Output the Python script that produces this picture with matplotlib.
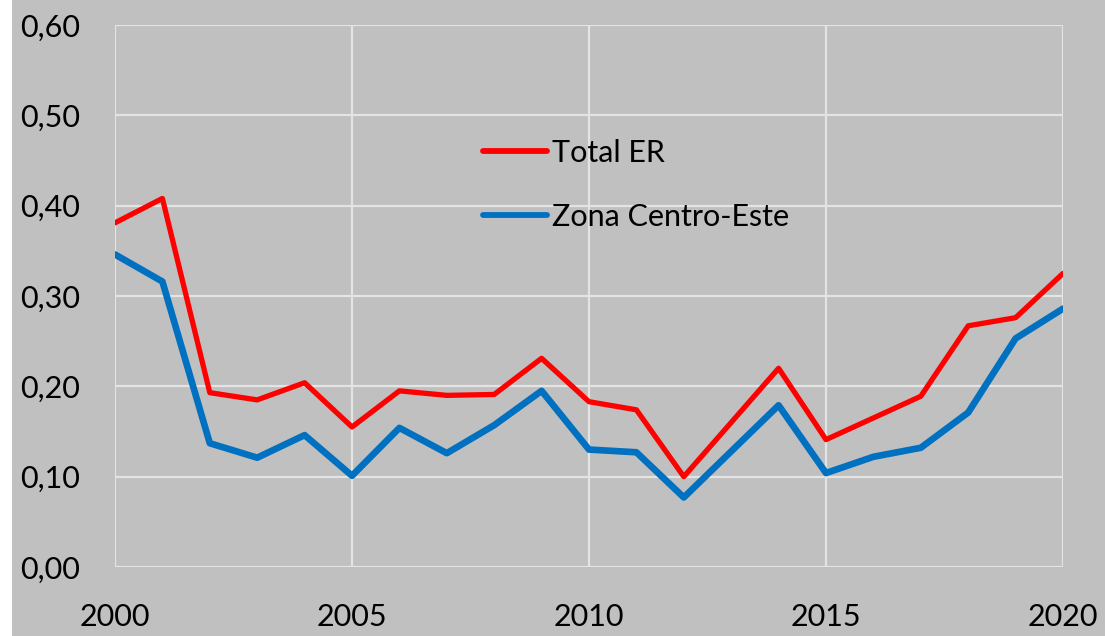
import matplotlib
matplotlib.use("Agg")
import matplotlib.pyplot as plt
from matplotlib.ticker import FuncFormatter, MultipleLocator
from matplotlib.patches import Rectangle

# datos
anos = list(range(2000, 2021))
total_er = [0.381, 0.408, 0.193, 0.185, 0.204, 0.155, 0.195, 0.190, 0.191, 0.231,
            0.183, 0.174, 0.100, 0.160, 0.220, 0.141, 0.165, 0.189, 0.267, 0.276, 0.325]
centro_este = [0.346, 0.316, 0.137, 0.121, 0.146, 0.101, 0.154, 0.126, 0.157, 0.195,
               0.130, 0.127, 0.077, 0.128, 0.179, 0.104, 0.122, 0.132, 0.171, 0.253, 0.286]
series = ["Total ER", "Zona Centro-Este"]
xticks = [2000, 2005, 2010, 2015, 2020]


def grafico():
    plt.rcParams['font.family'] = ['Lato', 'DejaVu Sans']
    gris = '#c0c0c0'
    fig = plt.figure(figsize=(11.05, 6.36), dpi=100, facecolor=gris)
    # franja blanca a la izquierda (por debajo de los textos)
    fig.patches.append(Rectangle((0, 0), 12 / 1105, 1, transform=fig.transFigure,
                                 facecolor='white', edgecolor='none', zorder=-1))
    ax = fig.add_axes([115 / 1105, 1 - 567 / 636, 948 / 1105, 542 / 636])
    ax.set_facecolor(gris)

    ax.plot(anos, total_er, color='#ff0000', lw=3.8, label=series[0], solid_capstyle='round')
    ax.plot(anos, centro_este, color='#0070c0', lw=4.8, label=series[1], solid_capstyle='round')

    ax.set_xlim(2000, 2020)
    ax.set_ylim(0, 0.6)
    ax.set_xticks(xticks)
    ax.yaxis.set_major_locator(MultipleLocator(0.1))
    ax.yaxis.set_major_formatter(FuncFormatter(lambda v, p: f"{v:.2f}".replace('.', ',')))
    ax.grid(True, color='#e4e4e4', lw=1.6)
    ax.set_axisbelow(True)
    for sp in ax.spines.values():
        sp.set_visible(False)
    ax.tick_params(length=0, labelsize=22, colors='black')
    ax.tick_params(axis='y', pad=25)
    ax.tick_params(axis='x', pad=26)

    leg = ax.legend(loc='upper left', bbox_to_anchor=(0.388, 0.79), frameon=False,
                    fontsize=22, handlelength=2.1, handletextpad=0.15,
                    labelspacing=1.18, borderpad=0, borderaxespad=0)
    for l in leg.get_lines():
        l.set_linewidth(4.2)

    fig.savefig('out.png', dpi=100, facecolor=fig.get_facecolor())
    plt.close(fig)


if __name__ == "__main__":
    grafico()
